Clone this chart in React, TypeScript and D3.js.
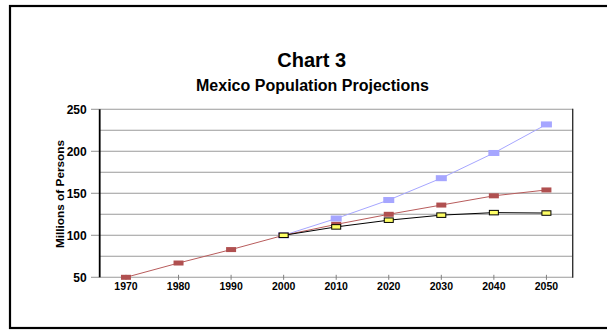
import React from "react";
import * as d3 from "d3";

// Years on the category axis
const years: string[] = ["1970", "1980", "1990", "2000", "2010", "2020", "2030", "2040", "2050"];

// Population series, millions of persons (null = no value for that year)
const highSeries: (number | null)[] = [null, null, null, 100, 120, 142, 168, 198, 232];
const midSeries: (number | null)[] = [50, 67, 83, 100, 113, 125, 136, 147, 154];
const lowSeries: (number | null)[] = [null, null, null, 100, 110, 118, 124, 127, 126.5];

// Y axis
const yMajorTicks: number[] = [50, 100, 150, 200, 250];
const yGridLines: number[] = [50, 75, 100, 125, 150, 175, 200, 225, 250];

const W = 607;
const H = 330;
const FONT = "Arial, 'Liberation Sans', Helvetica, sans-serif";

export default function App() {
  const plot = { left: 99.7, right: 572.7, top: 109.3, bottom: 277.3 };
  const x = d3.scaleBand<string>().domain(years).range([plot.left, plot.right]);
  const y = d3.scaleLinear().domain([50, 250]).range([plot.bottom, plot.top]);
  const cx = (yr: string) => (x(yr) as number) + x.bandwidth() / 2;

  const line = d3
    .line<number | null>()
    .defined((d) => d !== null)
    .x((_, i) => cx(years[i]))
    .y((d) => y(d as number));

  const markers = (
    vals: (number | null)[],
    w: number,
    h: number,
    fill: string,
    stroke: string | null
  ) =>
    vals.map((v, i) =>
      v === null ? null : (
        <rect
          key={i}
          x={cx(years[i]) - w / 2}
          y={y(v) - h / 2}
          width={w}
          height={h}
          fill={fill}
          stroke={stroke ?? "none"}
          strokeWidth={stroke ? 1 : 0}
        />
      )
    );

  return (
    <svg
      width={W}
      height={H}
      style={{ position: "absolute", left: 0, top: 0, background: "#fff" }}
      fontFamily={FONT}
    >
      {/* outer frame */}
      <rect x={10} y={6} width={610} height={322} fill="#fff" stroke="#000" strokeWidth={2.2} />

      {/* titles */}
      <text x={311.7} y={67.3} textAnchor="middle" fontSize={20} fontWeight="bold">
        Chart 3
      </text>
      <text x={312.5} y={90.7} textAnchor="middle" fontSize={16} fontWeight="bold">
        Mexico Population Projections
      </text>

      {/* horizontal gridlines */}
      {yGridLines.map((v) => (
        <line
          key={v}
          x1={plot.left}
          x2={plot.right}
          y1={y(v)}
          y2={y(v)}
          stroke="#9a9a9a"
          strokeWidth={1.1}
        />
      ))}

      {/* y axis major ticks and labels */}
      {yMajorTicks.map((v) => (
        <g key={v}>
          <line x1={91} x2={plot.left} y1={y(v)} y2={y(v)} stroke="#9a9a9a" strokeWidth={1.1} />
          <text
            x={86.7}
            y={y(v)}
            dy="0.36em"
            textAnchor="end"
            fontSize={12}
            fontWeight="bold"
          >
            {v}
          </text>
        </g>
      ))}

      {/* x axis ticks and labels */}
      {years.map((yr) => (
        <g key={yr}>
          <line x1={cx(yr)} x2={cx(yr)} y1={plot.bottom - 2.5} y2={plot.bottom + 2.5} stroke="#808080" strokeWidth={1} />
          <text x={cx(yr)} y={289.5} textAnchor="middle" fontSize={10.5} fontWeight="bold">
            {yr}
          </text>
        </g>
      ))}

      {/* plot frame: left axis and right edge */}
      <line x1={plot.left} x2={plot.left} y1={plot.top} y2={plot.bottom} stroke="#000" strokeWidth={1.8} />
      <line x1={plot.right} x2={plot.right} y1={plot.top - 0.5} y2={plot.bottom + 0.5} stroke="#333" strokeWidth={1.4} />

      {/* y axis title */}
      <text
        transform={`translate(63.5, 194) rotate(-90)`}
        textAnchor="middle"
        fontSize={11.8}
        fontWeight="bold"
      >
        Millions of Persons
      </text>

      {/* series */}
      <path d={line(highSeries) ?? ""} fill="none" stroke="#a6a6ff" strokeWidth={1} />
      {markers(highSeries, 11, 6, "#a6a6ff", null)}

      <path d={line(midSeries) ?? ""} fill="none" stroke="#b85c5c" strokeWidth={1} />
      {markers(midSeries, 10, 5, "#b05050", null)}

      <path d={line(lowSeries) ?? ""} fill="none" stroke="#000" strokeWidth={1} />
      {markers(lowSeries, 9, 4.5, "#ffff66", "#000")}
    </svg>
  );
}
